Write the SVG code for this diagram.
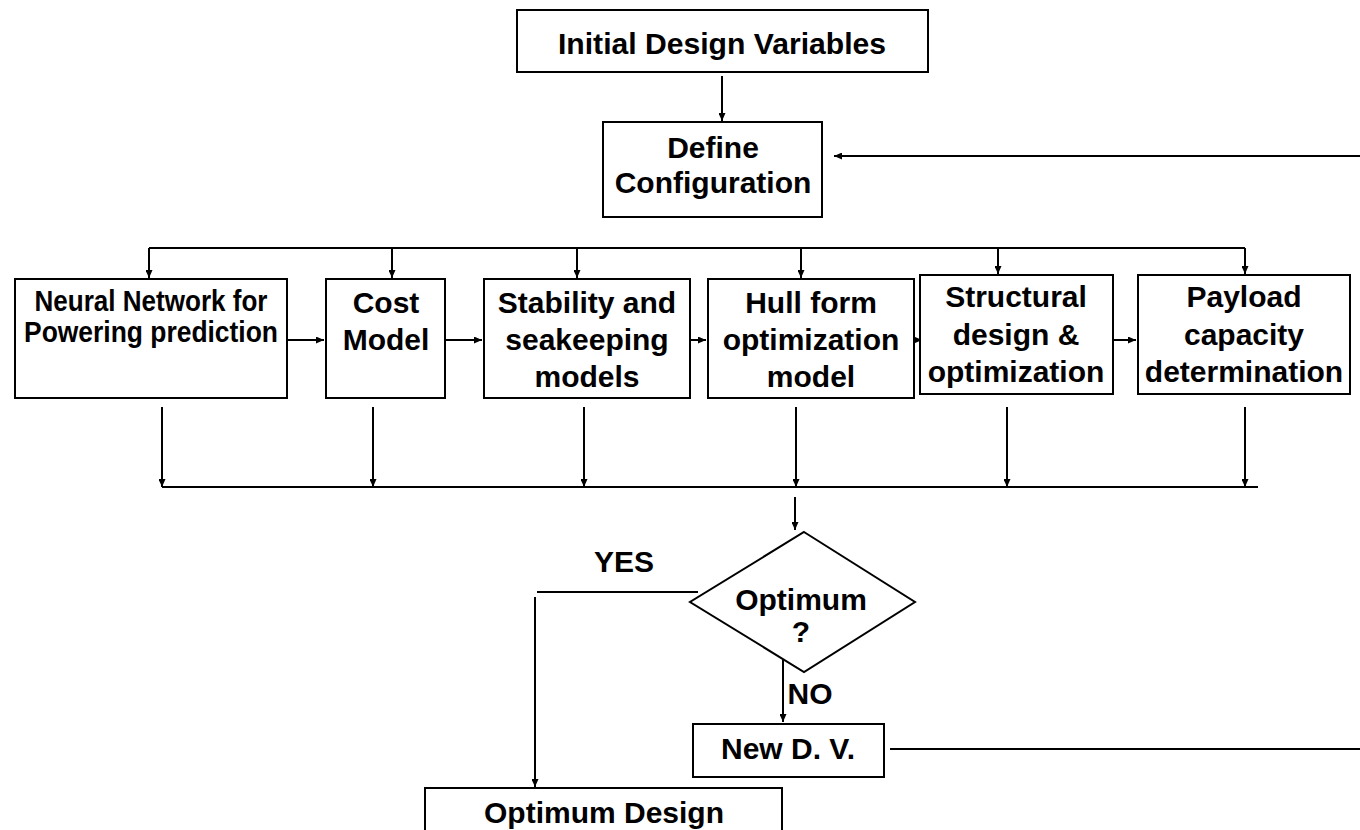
<svg xmlns="http://www.w3.org/2000/svg" width="1360" height="830" viewBox="0 0 1360 830">
  <defs>
    <marker id="arrow" viewBox="0 0 8 7" refX="8" refY="3.5" markerWidth="8" markerHeight="7" markerUnits="userSpaceOnUse" orient="auto">
      <path d="M0,0 L8,3.5 L0,7 z" fill="#000"/>
    </marker>
  </defs>
  <style>
    .box { fill: #fff; stroke: #000; stroke-width: 2; }
    .line { fill: none; stroke: #000; stroke-width: 2; }
    .arr { fill: none; stroke: #000; stroke-width: 2; marker-end: url(#arrow); }
    text { font-family: "Liberation Sans", Arial, sans-serif; font-weight: bold; fill: #000; text-anchor: middle; font-size: 30px; }
  </style>
  <rect width="1360" height="830" fill="#fff"/>

  <!-- connectors -->
  <g id="connectors">
    <path class="arr" d="M722,76 V121"/>
    <path class="arr" d="M1360,156 H834"/>
    <!-- distribution bus -->
    <path class="line" d="M149,248 H1245"/>
    <path class="arr" d="M149,248 V278"/>
    <path class="arr" d="M392,248 V278"/>
    <path class="arr" d="M577,248 V278"/>
    <path class="arr" d="M801,248 V278"/>
    <path class="arr" d="M998,248 V274"/>
    <path class="arr" d="M1245,248 V274"/>
    <!-- chain between models -->
    <path class="arr" d="M287,340 H324"/>
    <path class="arr" d="M445,340 H482"/>
    <path class="arr" d="M670,340 H706"/>
    <path class="arr" d="M893,340 H922"/>
    <path class="arr" d="M1098,340 H1136"/>
    <!-- collector bus -->
    <path class="arr" d="M162,407 V487"/>
    <path class="arr" d="M373,407 V487"/>
    <path class="arr" d="M584,407 V487"/>
    <path class="arr" d="M796,407 V487"/>
    <path class="arr" d="M1007,407 V487"/>
    <path class="arr" d="M1245,407 V487"/>
    <path class="line" d="M162,487 H1258"/>
    <path class="arr" d="M795,497 V530"/>
    <!-- decision branches -->
    <path class="line" d="M698,592 H537"/>
    <path class="arr" d="M535,597 V787"/>
    <path class="arr" d="M783,659 V722"/>
    <path class="line" d="M890,749 H1360"/>
  </g>

  <g id="n-initial">
    <rect class="box" x="517" y="10" width="411" height="62"/>
    <text x="722" y="54" font-size="40" textLength="328" lengthAdjust="spacingAndGlyphs">Initial Design Variables</text>
  </g>

  <g id="n-define">
    <rect class="box" x="603" y="122" width="219" height="95"/>
    <text x="713" y="158">Define</text>
    <text x="713" y="193">Configuration</text>
  </g>

  <g id="n-neural">
    <rect class="box" x="15" y="279" width="272" height="119"/>
    <text x="151" y="311" font-size="24" textLength="233" lengthAdjust="spacingAndGlyphs">Neural Network for</text>
    <text x="151" y="342" font-size="24" textLength="254" lengthAdjust="spacingAndGlyphs">Powering prediction</text>
  </g>

  <g id="n-cost">
    <rect class="box" x="326" y="279" width="119" height="119"/>
    <text x="386" y="313">Cost</text>
    <text x="386" y="350">Model</text>
  </g>

  <g id="n-stability">
    <rect class="box" x="484" y="279" width="206" height="119"/>
    <text x="587" y="313">Stability and</text>
    <text x="587" y="350">seakeeping</text>
    <text x="587" y="387">models</text>
  </g>

  <g id="n-hull">
    <rect class="box" x="708" y="279" width="206" height="119"/>
    <text x="811" y="313">Hull form</text>
    <text x="811" y="350">optimization</text>
    <text x="811" y="387">model</text>
  </g>

  <g id="n-structural">
    <rect class="box" x="920" y="275" width="193" height="119"/>
    <text x="1016" y="307">Structural</text>
    <text x="1016" y="345">design &amp;</text>
    <text x="1016" y="382">optimization</text>
  </g>

  <g id="n-payload">
    <rect class="box" x="1138" y="275" width="212" height="119"/>
    <text x="1244" y="307">Payload</text>
    <text x="1244" y="345">capacity</text>
    <text x="1244" y="382">determination</text>
  </g>

  <g id="n-decision">
    <polygon class="box" points="804,532 915,602 804,672 690,602"/>
    <text x="801" y="610" font-size="29">Optimum</text>
    <text x="801" y="642" font-size="29">?</text>
  </g>

  <g id="labels">
    <text x="624" y="572" font-size="29">YES</text>
    <text x="810" y="704" font-size="29">NO</text>
  </g>

  <g id="n-newdv">
    <rect class="box" x="693" y="724" width="191" height="53"/>
    <text x="788" y="759" font-size="29">New D. V.</text>
  </g>

  <g id="n-optimum">
    <rect class="box" x="425" y="788" width="357" height="60"/>
    <text x="604" y="823">Optimum Design</text>
  </g>
</svg>
